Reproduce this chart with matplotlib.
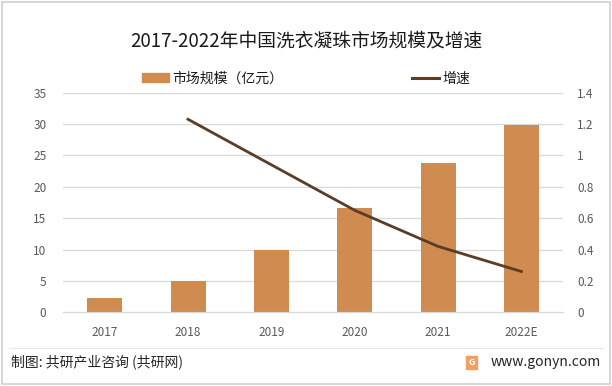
import matplotlib
matplotlib.use("Agg")
import matplotlib.pyplot as plt
from matplotlib.patches import Rectangle
from matplotlib.lines import Line2D

plt.rcParams['font.family'] = ['Noto Sans CJK SC', 'DejaVu Sans']
plt.rcParams['axes.unicode_minus'] = False

# 数据
years = ['2017', '2018', '2019', '2020', '2021', '2022E']
market_size = [2.2, 5.0, 9.9, 16.6, 23.8, 29.8]   # 亿元
growth = [None, 1.23, 0.94, 0.65, 0.42, 0.26]     # 增速

bar_color = '#D08C50'
line_color = '#5A3D27'
text_color = '#595959'
grid_color = '#D9D9D9'

fig = plt.figure(figsize=(6.12, 3.86), dpi=100)

# 外框
fig.patches.append(Rectangle((0.003, 0.004), 0.994, 0.992, transform=fig.transFigure,
                             fill=False, edgecolor='#D0D0D0', linewidth=1.2))

ax = fig.add_axes([0.103, 0.191, 0.817, 0.569])
x = list(range(len(years)))
ax.bar(x, market_size, width=0.42, color=bar_color, zorder=2)
ax.set_ylim(0, 35)
ax.set_yticks(range(0, 36, 5))
ax.set_xlim(-0.5, len(years) - 0.5)
ax.set_xticks(x)
ax.set_xticklabels(years)
ax.yaxis.grid(True, color=grid_color, linewidth=0.9, zorder=0)
ax.set_axisbelow(True)
for s in ['top', 'right', 'left']:
    ax.spines[s].set_visible(False)
ax.spines['bottom'].set_color(grid_color)
ax.tick_params(axis='both', length=0, colors=text_color, labelsize=8.5)
ax.tick_params(axis='x', pad=10)
ax.tick_params(axis='y', pad=12)

ax2 = ax.twinx()
gx = [i for i, g in zip(x, growth) if g is not None]
gy = [g for g in growth if g is not None]
ax2.plot(gx, gy, color=line_color, linewidth=2.0, zorder=3)
ax2.set_ylim(0, 1.4)
ax2.set_yticks([0, 0.2, 0.4, 0.6, 0.8, 1, 1.2, 1.4])
ax2.set_yticklabels(['0', '0.2', '0.4', '0.6', '0.8', '1', '1.2', '1.4'])
for s in ['top', 'right', 'left', 'bottom']:
    ax2.spines[s].set_visible(False)
ax2.tick_params(axis='y', length=0, colors=text_color, labelsize=8.5, pad=10)

# 标题
fig.text(0.5, 0.893, '2017-2022年中国洗衣凝珠市场规模及增速', ha='center', va='center',
         fontsize=13.5, color='#1a1a1a')

# 图例
handles = [Rectangle((0, 0), 1, 1, color=bar_color),
           Line2D([0], [0], color=line_color, linewidth=2.2)]
fig.legend(handles, ['市场规模（亿元）', '增速'], loc='center', ncol=2,
           bbox_to_anchor=(0.5, 0.797), frameon=False, fontsize=10,
           labelcolor='#1a1a1a', handlelength=1.95, handleheight=0.6,
           handletextpad=0.2, columnspacing=9.3)

# 分隔线与底部
fig.add_artist(Line2D([0.015, 0.985], [0.099, 0.099], transform=fig.transFigure,
                      color='#E6E6E6', linewidth=0.8))
fig.text(0.018, 0.062, '制图: 共研产业咨询 (共研网)', ha='left', va='center',
         fontsize=10, color='#262626')
fig.patches.append(Rectangle((0.762, 0.045), 0.018, 0.033, transform=fig.transFigure,
                             color='#F0A060'))
fig.text(0.771, 0.0615, 'G', ha='center', va='center', fontsize=6.5,
         color='white', fontweight='bold')
fig.text(0.982, 0.062, 'www.gonyn.com', ha='right', va='center',
         fontsize=10, color='#262626')

fig.savefig('out.png', dpi=100)
